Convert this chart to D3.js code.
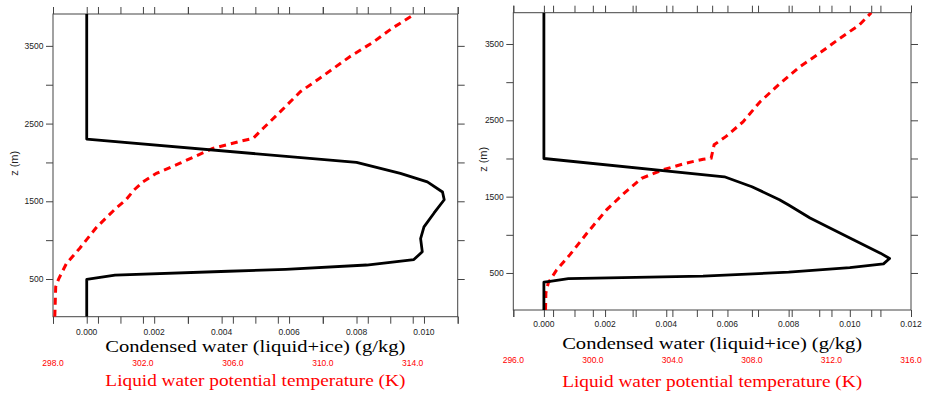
<!DOCTYPE html>
<html>
<head>
<meta charset="utf-8">
<script src="https://cdn.jsdelivr.net/npm/d3@7"></script>
<style>
body { margin: 0; background: #fff; }
</style>
</head>
<body>
<div id="chart"></div>
<script>
// ---- data ----
// left panel: condensed water profile
var zQcLeft  = [3910, 2300, 2000, 1860, 1750, 1620, 1520, 1350, 1170, 1020, 850, 750, 680, 625, 600, 551, 495, 15];
var qcLeft   = [0, 0, 0.0080, 0.0093, 0.0101, 0.01055, 0.0106, 0.0103, 0.0100, 0.0099, 0.00995, 0.0097, 0.0083, 0.0059, 0.0042, 0.00084, 0, 0];
// left panel: liquid water potential temperature
var zThLeft  = [15, 400, 500, 700, 900, 1170, 1410, 1520, 1645, 1750, 1860, 1990, 2180, 2270, 2310, 2440, 2650, 2910, 3080, 3360, 3550, 3730, 3910];
var thLeft   = [298.08, 298.12, 298.25, 298.6, 299.2, 299.95, 300.8, 301.25, 301.6, 302.0, 302.6, 303.65, 305.1, 306.3, 306.9, 307.35, 308.1, 309.0, 309.85, 311.2, 312.25, 313.1, 314.1];

// right panel: condensed water profile
var zQcRight = [3910, 2000, 1760, 1630, 1460, 1390, 1220, 1090, 940, 760, 690, 620, 570, 510, 460, 425, 390, 380, 15];
var qcRight  = [0, 0, 0.0059, 0.0068, 0.0077, 0.0080, 0.0087, 0.00935, 0.0101, 0.0110, 0.0113, 0.0111, 0.0100, 0.0080, 0.0052, 0.0008, 0.0002, 0, 0];
// right panel: liquid water potential temperature
var zThRight = [15, 240, 370, 540, 740, 1020, 1330, 1540, 1740, 1850, 1940, 1990, 2005, 2180, 2290, 2480, 2740, 2980, 3200, 3380, 3570, 3750, 3910];
var thRight  = [297.62, 297.64, 297.76, 298.18, 298.85, 299.7, 300.7, 301.55, 302.45, 303.5, 304.7, 305.55, 305.95, 306.1, 306.7, 307.55, 308.4, 309.4, 310.4, 311.4, 312.4, 313.4, 314.0];

// ticks
var zTicks        = [500, 1000, 1500, 2000, 2500, 3000, 3500];
var zLabels       = [500, 1500, 2500, 3500];
var qcTicksLeft   = [-0.001, 0, 0.001, 0.002, 0.003, 0.004, 0.005, 0.006, 0.007, 0.008, 0.009, 0.010, 0.011];
var qcLabelsLeft  = [0, 0.002, 0.004, 0.006, 0.008, 0.010];
var qcTicksRight  = [-0.001, 0, 0.001, 0.002, 0.003, 0.004, 0.005, 0.006, 0.007, 0.008, 0.009, 0.010, 0.011, 0.012];
var qcLabelsRight = [0, 0.002, 0.004, 0.006, 0.008, 0.010, 0.012];
var thTicksLeft   = [298, 300, 302, 304, 306, 308, 310, 312, 314, 316];
var thLabelsLeft  = [298, 302, 306, 310, 314];
var thTicksRight  = [296, 298, 300, 302, 304, 306, 308, 310, 312, 314, 316];
var thLabelsRight = [296, 300, 304, 308, 312, 316];

var qcTitle = "Condensed water (liquid+ice) (g/kg)";
var thTitle = "Liquid water potential temperature (K)";
var zTitle  = "z (m)";

// ---- layout ----
var panels = [
  { x0: 53, x1: 457.7, y0: 14, y1: 316.7, qcDom: [-0.001, 0.011], thDom: [298, 316],
    zQc: zQcLeft, qc: qcLeft, zTh: zThLeft, th: thLeft,
    qcTicks: qcTicksLeft, qcLabels: qcLabelsLeft, thTicks: thTicksLeft, thLabels: thLabelsLeft,
    qcLabY: 334.5, qcTitleY: 351.5, thLabY: 366, thTitleY: 386, zTitleX: 14 },
  { x0: 513.3, x1: 911, y0: 12.7, y1: 310, qcDom: [-0.001, 0.012], thDom: [296, 316],
    zQc: zQcRight, qc: qcRight, zTh: zThRight, th: thRight,
    qcTicks: qcTicksRight, qcLabels: qcLabelsRight, thTicks: thTicksRight, thLabels: thLabelsRight,
    qcLabY: 327, qcTitleY: 349, thLabY: 363, thTitleY: 387, zTitleX: 483.5 }
];

var tickColor = "#444";
var tickLen = 7;
var labelFont = "Liberation Sans, Arial, sans-serif";

var svg = d3.select("#chart").append("svg")
    .attr("width", 925)
    .attr("height", 394);

panels.forEach(function(p, idx) {
  var x = d3.scaleLinear().domain(p.qcDom).range([p.x0, p.x1]);
  var xt = d3.scaleLinear().domain(p.thDom).range([p.x0, p.x1]);
  var y = d3.scaleLinear().domain([15, 3910]).range([p.y1, p.y0]);

  var g = svg.append("g").attr("class", "panel" + idx);

  // clip so lines stay in frame
  g.append("clipPath").attr("id", "clip" + idx)
    .append("rect")
      .attr("x", p.x0).attr("y", p.y0)
      .attr("width", p.x1 - p.x0).attr("height", p.y1 - p.y0);

  // ticks: bottom + top for both x axes, left + right for z
  function addAxis(axis, tx, ty) {
    var a = g.append("g")
        .attr("transform", "translate(" + tx + "," + ty + ")")
        .call(axis);
    a.select(".domain").remove();
    a.selectAll("line").style("stroke", tickColor).style("stroke-width", 1);
    a.selectAll("text").remove();
  }
  addAxis(d3.axisBottom(x).tickValues(p.qcTicks).tickSize(tickLen), 0, p.y1);
  addAxis(d3.axisBottom(xt).tickValues(p.thTicks).tickSize(tickLen), 0, p.y1);
  addAxis(d3.axisTop(x).tickValues(p.qcTicks).tickSize(tickLen), 0, p.y0);
  addAxis(d3.axisTop(xt).tickValues(p.thTicks).tickSize(tickLen), 0, p.y0);
  addAxis(d3.axisLeft(y).tickValues(zTicks).tickSize(tickLen), p.x0, 0);
  addAxis(d3.axisRight(y).tickValues(zTicks).tickSize(tickLen), p.x1, 0);

  // frame
  g.append("rect")
    .attr("x", p.x0).attr("y", p.y0)
    .attr("width", p.x1 - p.x0).attr("height", p.y1 - p.y0)
    .style("fill", "none")
    .style("stroke", tickColor)
    .style("stroke-width", 1);

  // tick labels
  g.selectAll(".zlab").data(zLabels).enter().append("text")
    .attr("x", p.x0 - 9.5)
    .attr("y", function(d) { return y(d); })
    .attr("dy", "0.35em")
    .style("text-anchor", "end")
    .style("font-family", labelFont)
    .style("font-size", "8.5px")
    .style("fill", "#222")
    .text(function(d) { return d; });

  g.selectAll(".qclab").data(p.qcLabels).enter().append("text")
    .attr("x", function(d) { return x(d); })
    .attr("y", p.qcLabY)
    .style("text-anchor", "middle")
    .style("font-family", labelFont)
    .style("font-size", "8.5px")
    .style("fill", "#222")
    .text(function(d) { return d3.format(".3f")(d); });

  g.selectAll(".thlab").data(p.thLabels).enter().append("text")
    .attr("x", function(d) { return xt(d); })
    .attr("y", p.thLabY)
    .style("text-anchor", "middle")
    .style("font-family", labelFont)
    .style("font-size", "8.5px")
    .style("fill", "#ff0000")
    .text(function(d) { return d3.format(".1f")(d); });

  // titles
  var cx = (p.x0 + p.x1) / 2;
  g.append("text")
    .attr("x", cx).attr("y", p.qcTitleY)
    .attr("textLength", 300).attr("lengthAdjust", "spacingAndGlyphs")
    .style("text-anchor", "middle")
    .style("font-family", "Liberation Serif, Times New Roman, serif")
    .style("font-size", "17px")
    .style("fill", "#000")
    .text(qcTitle);

  g.append("text")
    .attr("x", cx).attr("y", p.thTitleY)
    .attr("textLength", 300).attr("lengthAdjust", "spacingAndGlyphs")
    .style("text-anchor", "middle")
    .style("font-family", "Liberation Serif, Times New Roman, serif")
    .style("font-size", "17px")
    .style("fill", "#ff0000")
    .text(thTitle);

  g.append("text")
    .attr("transform", "translate(" + p.zTitleX + "," + ((p.y0 + p.y1) / 2 - 2) + ") rotate(-90)")
    .attr("dy", "0.35em")
    .style("text-anchor", "middle")
    .style("font-family", labelFont)
    .style("font-size", "11px")
    .style("fill", "#222")
    .text(zTitle);

  // profiles
  var qcLine = d3.line()
      .x(function(d, i) { return x(p.qc[i]); })
      .y(function(d) { return y(d); });
  var thLine = d3.line()
      .x(function(d, i) { return xt(p.th[i]); })
      .y(function(d) { return y(d); });

  var lines = g.append("g").attr("clip-path", "url(#clip" + idx + ")");

  lines.append("path")
    .datum(p.zTh)
    .attr("d", thLine)
    .style("fill", "none")
    .style("stroke", "#ff0000")
    .style("stroke-width", 3)
    .style("stroke-dasharray", "7,5");

  lines.append("path")
    .datum(p.zQc)
    .attr("d", qcLine)
    .style("fill", "none")
    .style("stroke", "#000")
    .style("stroke-width", 2.8)
    .style("stroke-linejoin", "round");
});
</script>
</body>
</html>
